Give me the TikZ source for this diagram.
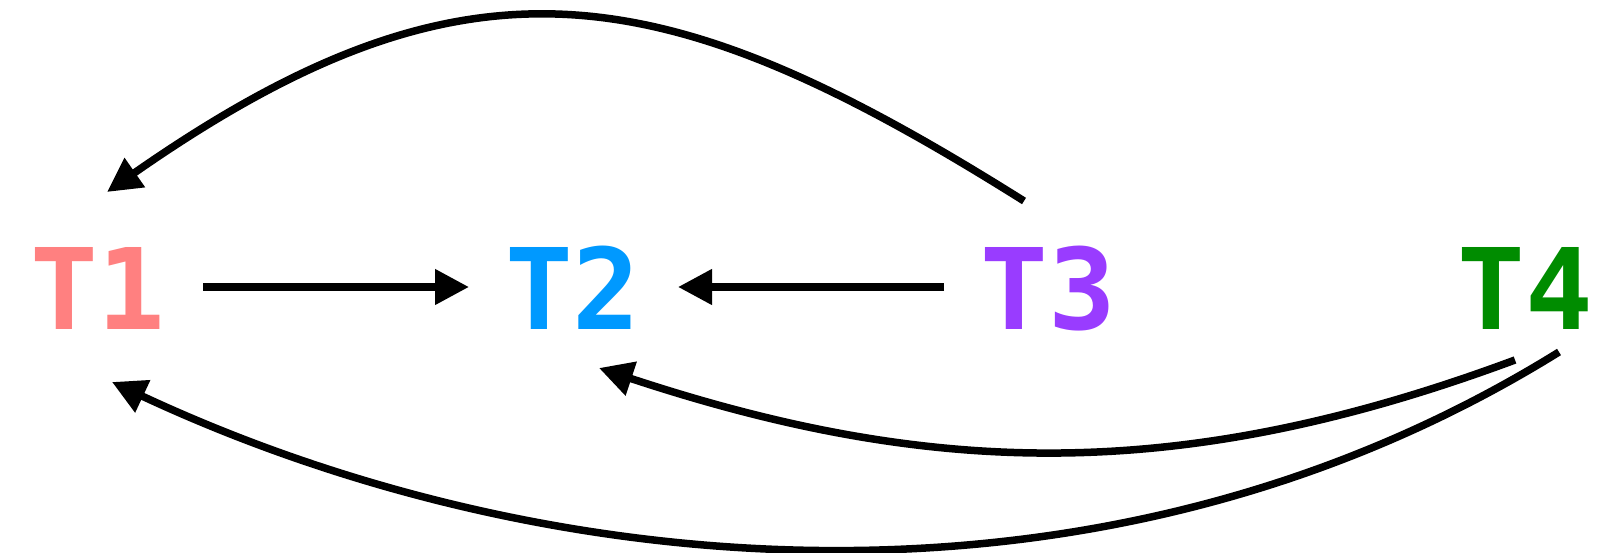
\documentclass[tikz,border=0pt]{standalone}
\usepackage{fontspec}
\setmonofont{DejaVu Sans Mono}
\usetikzlibrary{arrows.meta}
\definecolor{cone}{RGB}{255,128,128}
\definecolor{ctwo}{RGB}{0,153,255}
\definecolor{cthree}{RGB}{153,60,255}
\definecolor{cfour}{RGB}{0,140,0}
\tikzset{
  lbl/.style={anchor=base, inner sep=0pt, font=\fontsize{112.5}{120}\selectfont\ttfamily\bfseries},
  conn/.style={line width=7.5pt, -{Triangle[length=34pt,width=34pt]}},
}
\begin{document}
\begin{tikzpicture}[x=1pt,y=1pt]
\useasboundingbox (0,0) rectangle (1599,552);
\node[lbl, text=cone] (t1) at (98,222) {T1};
\node[lbl, text=ctwo] (t2) at (573,222) {T2};
\node[lbl, text=cthree] (t3) at (1048,222) {T3};
\node[lbl, text=cfour] (t4) at (1525,222) {T4};
\draw[conn] ([shift={(105,43)}]t1.base) -- ([shift={(-104,43)}]t2.base);
\draw[conn] ([shift={(-104,43)}]t3.base) -- ([shift={(105,43)}]t2.base);
\draw[conn] ([shift={(-24,129)}]t3.base) .. controls (663,578) and (468,612) .. ([shift={(9,138)}]t1.base);
\draw[conn] ([shift={(-10,-30)}]t4.base) .. controls (1181,68) and (932,74) .. ([shift={(26,-38)}]t2.base);
\draw[conn] ([shift={(34,-22)}]t4.base) .. controls (1100,-85) and (540,-30) .. ([shift={(14,-52)}]t1.base);
\end{tikzpicture}
\end{document}
